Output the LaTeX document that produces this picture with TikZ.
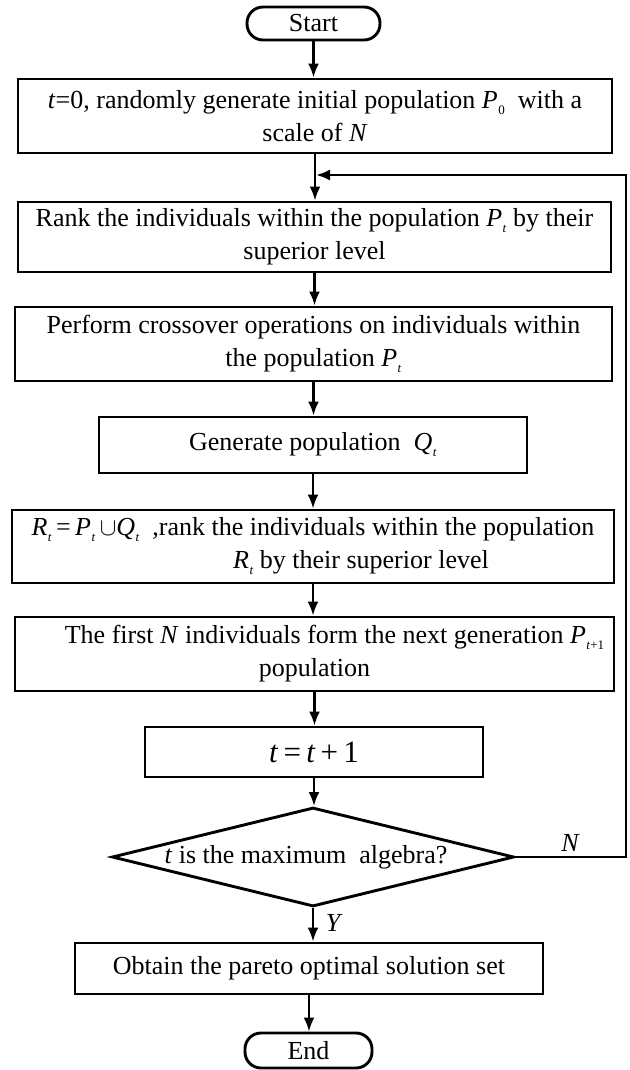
\documentclass[tikz,border=0pt]{standalone}
\usepackage{fontspec}
\setmainfont{Liberation Serif}
\usetikzlibrary{shapes.geometric,arrows.meta}
\newcommand{\sbs}[1]{\raisebox{-0.5ex}{\fontsize{13}{13}\selectfont #1}}
\newcommand{\vrb}[2]{\textit{#1}\kern0.5pt\sbs{#2}}
\begin{document}
\begin{tikzpicture}[x=1pt,y=-1pt,
  every node/.style={font=\fontsize{26}{33}\selectfont, inner sep=0pt},
  procbox/.style={draw, line width=2.9pt, rectangle, align=center},
  termbox/.style={draw, line width=2.9pt, rectangle, rounded corners=16pt, align=center},
  decbox/.style={draw, line width=2.9pt, diamond, aspect=4.06, align=center},
  flow/.style={line width=2.4pt, -{Latex[length=14pt,width=11pt]}},
  lbl/.style={font=\fontsize{26}{30}\selectfont\itshape}]
\useasboundingbox[fill=white] (0,0) rectangle (629,1070);

\node[termbox, minimum width=133pt, minimum height=33pt] (start) at (313.5,23.5) {Start};
\node[procbox, minimum width=594pt, minimum height=74pt] (b1) at (315,116)
  {\textit{t}=0, randomly generate initial population \vrb{P}{0}\ \ with a\\ scale of \textit{N}};
\node[procbox, minimum width=593pt, minimum height=70pt] (b2) at (314.5,237)
  {Rank the individuals within the population \vrb{P}{\textit{t}} by their\\ superior level};
\node[procbox, minimum width=597pt, minimum height=74pt] (b3) at (313.5,344)
  {Perform crossover operations on individuals within\\ the population \vrb{P}{\textit{t}}};
\node[procbox, minimum width=428pt, minimum height=56pt] (b4) at (313,445)
  {Generate population \ \vrb{Q}{\textit{t}}};
\node[procbox, minimum width=602pt, minimum height=73pt] (b5) at (313,546.5)
  {\vrb{R}{\textit{t}}\,=\,\vrb{P}{\textit{t}}\,$\cup$\vrb{Q}{\textit{t}}\ \ ,rank the individuals within the population\\ \hspace*{96pt}\vrb{R}{\textit{t}}\ by their superior level};
\node[procbox, minimum width=599pt, minimum height=74pt] (b6) at (314.5,654)
  {\hspace*{40pt}The first \textit{N} individuals form the next generation \vrb{P}{\textit{t}+1}\\ population};
\node[procbox, minimum width=338pt, minimum height=50pt, font=\fontsize{31}{36}\selectfont] (b7) at (314,752)
  {\textit{t}\,=\,\textit{t}\,+\,1};
\node[decbox, minimum width=402pt, minimum height=99pt] (d) at (313,857)
  {\hspace*{-14pt}\textit{t} is the maximum \ algebra?};
\node[procbox, minimum width=468pt, minimum height=51pt] (ob) at (309,968.5)
  {Obtain the pareto optimal solution set};
\node[termbox, minimum width=127pt, minimum height=35pt] (end) at (308.5,1050.5) {End};

\coordinate (loopR) at (626,175);
\coordinate (join) at (316,175);

\draw[flow] (start.south) -- (start.south |- b1.north);
\draw[flow] (b1.south) -- (b1.south |- b2.north);
\draw[flow] (b2.south) -- (b2.south |- b3.north);
\draw[flow] (b3.south) -- (b3.south |- b4.north);
\draw[flow] (b4.south) -- (b4.south |- b5.north);
\draw[flow] (b5.south) -- (b5.south |- b6.north);
\draw[flow] (b6.south) -- (b6.south |- b7.north);
\draw[flow] (b7.south) -- (b7.south |- d.north);
\draw[flow] (d.south) -- (d.south |- ob.north);
\draw[flow] (ob.south) -- (ob.south |- end.north);
\draw[flow] (d.east) -- (d.east -| loopR) -- (loopR) -- (join);

\node[lbl] (nlab) at (570,843) {N};
\node[lbl] (ylab) at (333,923) {Y};
\end{tikzpicture}
\end{document}
